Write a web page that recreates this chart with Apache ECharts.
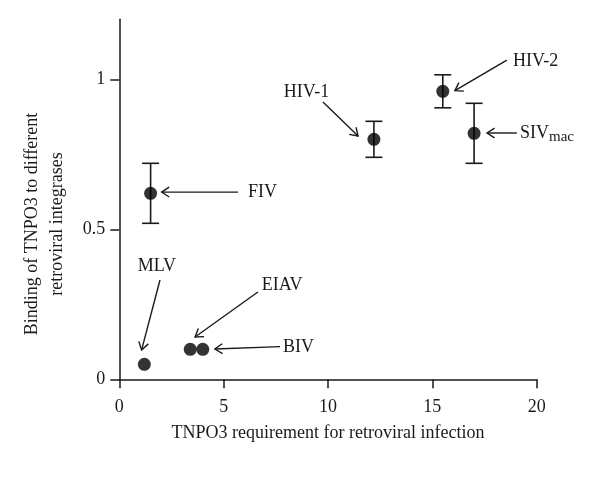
<!DOCTYPE html>
<html><head><meta charset="utf-8">
<script src="https://cdn.jsdelivr.net/npm/echarts@6/dist/echarts.min.js"></script>
<style>html,body{margin:0;padding:0;background:#fff}#chart{width:600px;height:488px}</style>
</head><body><div id="chart"></div>
<script>
// ---- data ----
const virusNames = ['MLV', 'EIAV', 'BIV', 'FIV', 'HIV-1', 'HIV-2', 'SIVmac'];
const tnpo3Requirement = [1.2, 3.4, 4.0, 1.5, 12.2, 15.5, 17.0];
const tnpo3Binding = [0.05, 0.10, 0.10, 0.62, 0.80, 0.96, 0.82];
const bindingLow = [null, null, null, 0.52, 0.74, 0.905, 0.72];
const bindingHigh = [null, null, null, 0.72, 0.86, 1.015, 0.92];
const xTickValues = [0, 5, 10, 15, 20];
const yTickValues = [0, 0.5, 1];
const xTitle = 'TNPO3 requirement for retroviral infection';
const yTitle = 'Binding of TNPO3 to different\nretroviral integrases';

// ---- annotation layout (in data units) ----
const labelAnchor = [[1.80, 0.378], [6.83, 0.314], [7.84, 0.106], [6.17, 0.623], [8.97, 0.956], [18.86, 1.061], [19.2, 0.816]];
const labelAlign = ['center', 'left', 'left', 'left', 'center', 'left', 'left'];
const arrowStart = [[1.95, 0.331], [6.64, 0.291], [7.70, 0.109], [5.69, 0.624], [9.76, 0.924], [18.57, 1.064], [19.05, 0.821]];
const arrowEnd = [[1.07, 0.098], [3.63, 0.141], [4.58, 0.101], [2.03, 0.624], [11.44, 0.811], [16.08, 0.962], [17.62, 0.821]];

const FONT = '"Liberation Serif", "Times New Roman", serif';
const INK = '#1a1a1a';

const chart = echarts.init(document.getElementById('chart'), null, { renderer: 'canvas' });

const pointData = tnpo3Requirement.map((x, i) => [x, tnpo3Binding[i]]);
const errData = [];
tnpo3Requirement.forEach((x, i) => { if (bindingLow[i] != null) errData.push([x, bindingLow[i], bindingHigh[i]]); });
const arrowData = arrowStart.map((s, i) => [s[0], s[1], arrowEnd[i][0], arrowEnd[i][1]]);
const labelData = labelAnchor.map((p, i) => [p[0], p[1], i]);

function labelText(name) {
  if (name === 'SIVmac') return '{n|SIV}{s|mac}{h|}';
  return '{n|' + name + '}';
}

chart.setOption({
  animation: false,
  backgroundColor: '#fff',
  grid: { left: 119.3, right: 63.3, top: 19.3, bottom: 108.7 },
  xAxis: {
    type: 'value', min: 0, max: 20, interval: 5,
    name: xTitle, nameLocation: 'middle', nameGap: 45,
    nameTextStyle: { fontFamily: FONT, fontSize: 18, color: INK },
    axisLine: { show: true, onZero: false, lineStyle: { color: INK, width: 1.5 } },
    axisTick: { show: true, length: 9, lineStyle: { color: INK, width: 1.5 }, customValues: xTickValues },
    axisLabel: { fontFamily: FONT, fontSize: 18, color: INK, margin: 19, customValues: xTickValues },
    splitLine: { show: false }
  },
  yAxis: {
    type: 'value', min: 0, max: 1.2, interval: 0.5,
    axisLine: { show: true, onZero: false, lineStyle: { color: INK, width: 1.5 } },
    axisTick: { show: true, length: 9, lineStyle: { color: INK, width: 1.5 }, customValues: yTickValues },
    axisLabel: { fontFamily: FONT, fontSize: 18, color: INK, margin: 14, customValues: yTickValues },
    splitLine: { show: false }
  },
  graphic: [{
    type: 'text', x: 44.5, y: 224, rotation: Math.PI / 2,
    style: { text: yTitle, font: '18px ' + FONT, fill: INK, align: 'center', verticalAlign: 'middle', lineHeight: 25 }
  }],
  series: [
    {
      type: 'custom', name: 'errors', data: errData, z: 2,
      encode: { x: 0, y: [1, 2] },
      renderItem: function (params, api) {
        const lo = api.coord([api.value(0), api.value(1)]);
        const hi = api.coord([api.value(0), api.value(2)]);
        const w = 8.5;
        const st = { stroke: INK, lineWidth: 1.6 };
        return { type: 'group', children: [
          { type: 'line', shape: { x1: lo[0], y1: lo[1], x2: hi[0], y2: hi[1] }, style: st },
          { type: 'line', shape: { x1: lo[0] - w, y1: lo[1], x2: lo[0] + w, y2: lo[1] }, style: st },
          { type: 'line', shape: { x1: hi[0] - w, y1: hi[1], x2: hi[0] + w, y2: hi[1] }, style: st }
        ]};
      }
    },
    {
      type: 'scatter', name: 'points', data: pointData, z: 3,
      symbol: 'circle', symbolSize: 13,
      itemStyle: { color: '#000', borderWidth: 0 }
    },
    {
      type: 'custom', name: 'arrows', data: arrowData, z: 2,
      encode: { x: [0, 2], y: [1, 3] },
      renderItem: function (params, api) {
        const p1 = api.coord([api.value(0), api.value(1)]);
        const p2 = api.coord([api.value(2), api.value(3)]);
        const ang = Math.atan2(p2[1] - p1[1], p2[0] - p1[0]);
        const L = 9, a = 0.58;
        const h1 = [p2[0] - L * Math.cos(ang - a), p2[1] - L * Math.sin(ang - a)];
        const h2 = [p2[0] - L * Math.cos(ang + a), p2[1] - L * Math.sin(ang + a)];
        const st = { stroke: INK, lineWidth: 1.4, fill: null };
        return { type: 'group', children: [
          { type: 'line', shape: { x1: p1[0], y1: p1[1], x2: p2[0], y2: p2[1] }, style: st },
          { type: 'polyline', shape: { points: [h1, p2, h2] }, style: st }
        ]};
      }
    },
    {
      type: 'custom', name: 'labels', data: labelData, z: 4,
      encode: { x: 0, y: 1 },
      renderItem: function (params, api) {
        const i = api.value(2);
        const p = api.coord([api.value(0), api.value(1)]);
        return {
          type: 'text', x: p[0], y: p[1],
          style: {
            text: labelText(virusNames[i]),
            align: labelAlign[i], verticalAlign: 'middle',
            fill: INK, font: '18px ' + FONT,
            rich: {
              n: { fontFamily: FONT, fontSize: 18, lineHeight: 18, verticalAlign: 'top', fill: INK, color: INK },
              s: { fontFamily: FONT, fontSize: 15, lineHeight: 15, verticalAlign: 'bottom', fill: INK, color: INK },
              h: { fontSize: 1, lineHeight: 21, width: 1 }
            }
          }
        };
      }
    }
  ]
});
</script>
</body></html>
